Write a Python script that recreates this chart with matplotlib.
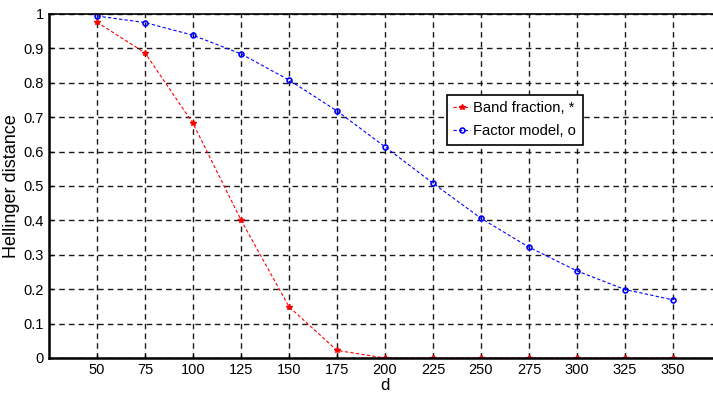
import matplotlib
matplotlib.use("Agg")
import matplotlib.pyplot as plt
from matplotlib.ticker import FuncFormatter

d = [50, 75, 100, 125, 150, 175, 200, 225, 250, 275, 300, 325, 350]
band_fraction = [0.976, 0.887, 0.682, 0.401, 0.149, 0.022, 0.0, 0.0, 0.0, 0.0, 0.0, 0.0, 0.0]
factor_model = [0.994, 0.975, 0.938, 0.884, 0.808, 0.718, 0.614, 0.508, 0.406, 0.322, 0.253, 0.199, 0.169]

plt.rcParams['font.family'] = ['Liberation Sans', 'DejaVu Sans']

fig = plt.figure(figsize=(7.13, 3.95), dpi=100)
# axes run slightly past the right edge of the figure
ax = fig.add_axes([0.0687, 0.0937, 0.9425, 0.871])

ax.plot(d, band_fraction, color='red', linestyle='--', linewidth=0.8,
        marker='*', markersize=4, label='Band fraction, *', dashes=(3, 2))
ax.plot(d, factor_model, color='blue', linestyle='--', linewidth=0.8,
        marker='o', markersize=3.5, markerfacecolor='none', markeredgewidth=1.2,
        label='Factor model, o', dashes=(3, 2))

ax.set_xlim(25, 375)
ax.set_ylim(0, 1)
ax.set_xticks(d)
ax.set_yticks([i / 10 for i in range(11)])
ax.yaxis.set_major_formatter(FuncFormatter(lambda v, p: '%g' % round(v, 1)))
ax.tick_params(direction='in', length=3, labelsize=10.5, width=1)
ax.grid(True, color='black', linestyle=(0, (4, 3)), linewidth=1.0, alpha=0.9)
ax.set_axisbelow(True)

for s in ['left', 'bottom']:
    ax.spines[s].set_linewidth(1.8)
ax.spines['top'].set_linewidth(1.2)

ax.set_xlabel('d', fontsize=12, labelpad=1)
ax.set_ylabel('Hellinger distance', fontsize=13, labelpad=3)

leg = ax.legend(loc='upper left', bbox_to_anchor=(0.592, 0.765), fontsize=10.6,
                frameon=True, fancybox=False, framealpha=1, edgecolor='black',
                handlelength=1.1, handletextpad=0.25, borderpad=0.45,
                labelspacing=0.6, borderaxespad=0)
leg.get_frame().set_linewidth(1.2)

fig.savefig('out.png', dpi=100)
